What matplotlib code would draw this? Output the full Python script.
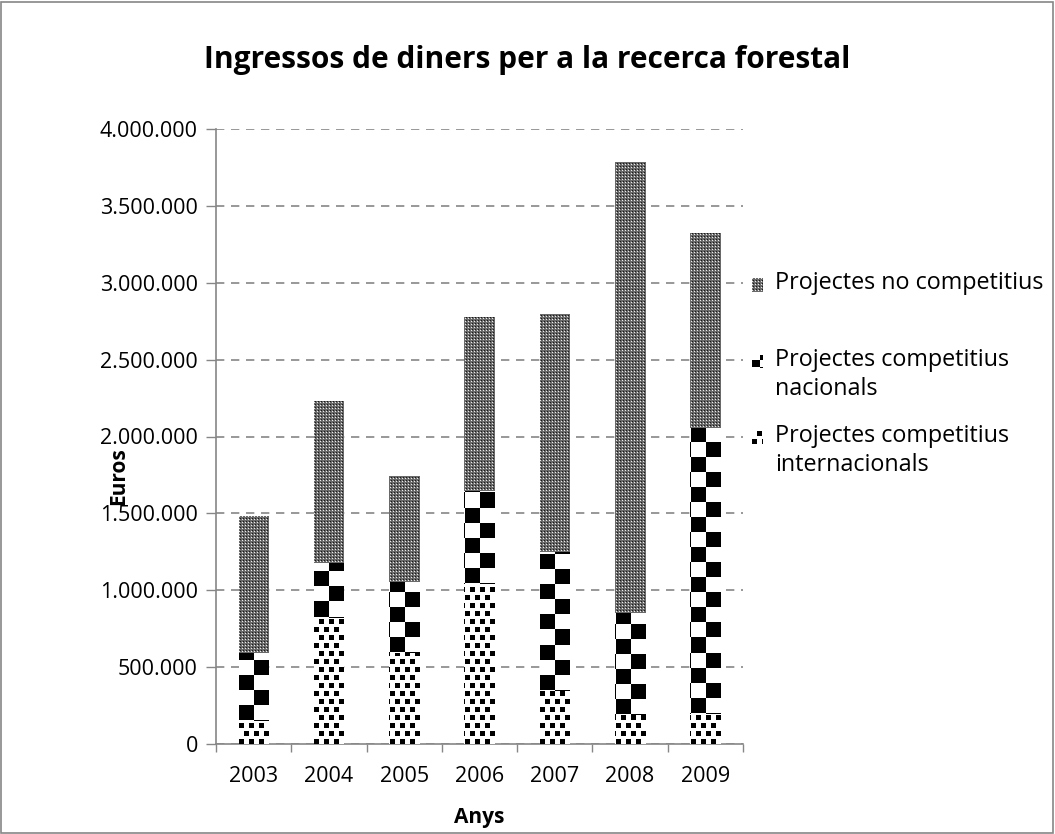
import matplotlib
matplotlib.use('Agg')
import matplotlib.pyplot as plt
import numpy as np
from matplotlib.patches import Rectangle
from matplotlib.ticker import FuncFormatter
from matplotlib.container import BarContainer
from matplotlib.legend_handler import HandlerPatch, update_from_first_child

plt.rcParams['font.family'] = ['Open Sans', 'DejaVu Sans']

#---------------------Dades---------------------------
anys = ['2003', '2004', '2005', '2006', '2007', '2008', '2009']
internacionals = [150000, 826000, 595000, 1045000, 350000, 190000, 200000]
nacionals = [445000, 353000, 459000, 602000, 899000, 668000, 1857000]
no_competitius = [888000, 1052000, 689000, 1128000, 1546000, 2927000, 1267000]

etiquetes = ['Projectes competitius\ninternacionals',
             'Projectes competitius\nnacionals',
             'Projectes no competitius\n']

W, H = 1055, 834
fig = plt.figure(figsize=(W / 100, H / 100), dpi=100)
ax = fig.add_axes([216 / W, 1 - 744 / H, 527 / W, 615 / H])


#---------------------Patrons---------------------------
def patro(tipus, px, py, s):
    # px, py: coordenades en píxels relatives a la cantonada de la barra
    X, Y = np.meshgrid(px, py)
    if tipus == 0:  # punts
        fila = np.floor(Y / 8)
        d = (((X + (fila % 2) * 5) % 10) < 5) & ((Y % 8) < 5)
        v = np.where(d, 0, 255)
    elif tipus == 1:  # escacs grans
        c = (np.floor(X / s) + np.floor(Y / s)) % 2 == 0
        v = np.where(c, 0, 255)
    else:  # escacs fins
        xi = np.floor(X).astype(int) % 3
        yi = np.floor(Y).astype(int) % 3
        v = np.full(X.shape, 105)
        v[(xi == 0) & (yi == 0)] = 235
        v[(xi == 1) & (yi == 1)] = 25
    return np.repeat(v.astype(np.uint8)[..., None], 3, axis=2)


def omple(patch, tipus, s=None):
    bb = patch.get_window_extent()
    ix, iy = int(np.floor(bb.x0)), int(np.floor(bb.y0))
    w = int(np.ceil(bb.x1)) - ix
    h = int(np.ceil(bb.y1)) - iy
    if w <= 0 or h <= 0:
        return
    if s is None:
        s = bb.width / 2
    px = np.arange(w) + ix - bb.x0
    py = np.arange(h) + iy - bb.y0
    im = fig.figimage(patro(tipus, px, py, s), xo=ix, yo=iy, origin='lower', zorder=5)
    im.set_clip_path(patch)


#---------------------Barres---------------------------
x = np.arange(len(anys))
bottom = np.zeros(len(anys))
series = [internacionals, nacionals, no_competitius]
grups = []
for vals, lab in zip(series, etiquetes):
    b = ax.bar(x, vals, 0.4, bottom=bottom, color='none', edgecolor='none',
               linewidth=0, label=lab, zorder=3)
    grups.append(b)
    bottom = bottom + np.array(vals)

#---------------------Eixos---------------------------
ax.set_xlim(-0.5, len(anys) - 0.5)
ax.set_ylim(0, 4000000)
ax.set_yticks(np.arange(0, 4000001, 500000))
ax.yaxis.set_major_formatter(FuncFormatter(lambda v, p: f'{int(v):,}'.replace(',', '.')))
ax.set_xticks(x)
ax.set_xticklabels(anys)
ax.set_xticks(np.arange(-0.5, len(anys)), minor=True)
ax.tick_params(axis='x', which='major', length=0, pad=16, labelsize=15.5)
ax.tick_params(axis='x', which='minor', length=6, color='#868686', width=1)
ax.tick_params(axis='y', length=7, color='#868686', width=1, labelsize=15.5, pad=6)
ax.grid(axis='y', color='#868686', linestyle=(0, (5, 4)), linewidth=1.2, zorder=0)
ax.set_axisbelow(True)
for s in ['top', 'right']:
    ax.spines[s].set_visible(False)
for s in ['left', 'bottom']:
    ax.spines[s].set_color('#868686')
    ax.spines[s].set_linewidth(1.2)

ax.set_ylabel('Euros', fontsize=15, fontweight='bold', va='center')
ax.yaxis.set_label_coords((119 - 216) / 527, (744 - 476) / 615)
ax.set_xlabel('Anys', fontsize=15, fontweight='bold', va='center')
ax.xaxis.set_label_coords(0.5, (744 - 818) / 615)
fig.text(0.5, 1 - 60 / H, 'Ingressos de diners per a la recerca forestal',
         ha='center', va='center', fontsize=21.5, fontweight='bold')


#---------------------Llegenda---------------------------
def marca(legend, orig_handle, xdescent, ydescent, width, height, fontsize):
    return Rectangle((-xdescent, -ydescent + 0.58 * fontsize), width, height)


h, l = ax.get_legend_handles_labels()
leg = ax.legend(h[::-1], l[::-1], loc='upper left',
                bbox_to_anchor=(752 / W, 1 - 271 / H), bbox_transform=fig.transFigure,
                frameon=False, fontsize=16.8, handlelength=0.47, handleheight=0.47,
                handletextpad=0.5, labelspacing=1.0, borderaxespad=0, borderpad=0,
                handler_map={BarContainer: HandlerPatch(patch_func=marca,
                                                        update_func=update_from_first_child)})
for t in leg.get_texts():
    t.set_linespacing(1.29)

# vora del gràfic
fig.patches.append(Rectangle((1 / W, 1 / H), 1 - 3 / W, 1 - 3 / H, transform=fig.transFigure,
                             fill=False, edgecolor='#868686', linewidth=1.2))

fig.canvas.draw()
for tipus, b in enumerate(grups):
    for p in b.patches:
        omple(p, tipus)
for tipus, hd in enumerate(leg.legend_handles[::-1]):
    omple(hd, tipus, s=hd.get_window_extent().width * 0.7)

fig.savefig('out.png', dpi=100)
